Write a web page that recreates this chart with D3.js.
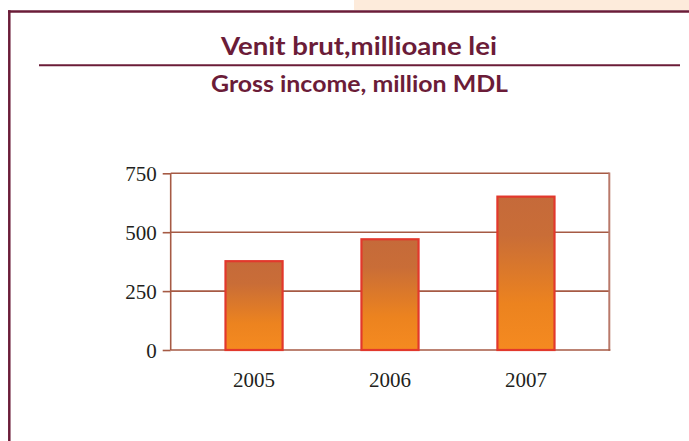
<!DOCTYPE html>
<html>
<head>
<meta charset="utf-8">
<script src="https://cdn.jsdelivr.net/npm/d3@7/dist/d3.min.js"></script>
<style>
  html, body { margin: 0; padding: 0; background: #ffffff; }
  svg { display: block; }
</style>
</head>
<body>
<svg id="chart" width="689" height="441"></svg>
<script>
const categories = ["2005", "2006", "2007"];
const values = [377, 470, 651];
const yTicks = [0, 250, 500, 750];
const titleText = "Venit brut,millioane lei";
const subtitleText = "Gross income, million MDL";

(function () {
const svg = d3.select("#chart");
const W = 689, H = 441;
const maroon = "#6b1c38";
const gridColor = "#a65a44";

// peach strip at top right
svg.append("rect").attr("x", 354).attr("y", 0).attr("width", W - 354).attr("height", 10)
  .attr("fill", "#fdebdb");

// frame: top and left borders
svg.append("line").attr("x1", 8).attr("x2", W).attr("y1", 11.5).attr("y2", 11.5)
  .attr("stroke", maroon).attr("stroke-width", 2.5);
svg.append("line").attr("x1", 9.3).attr("x2", 9.3).attr("y1", 10.3).attr("y2", H)
  .attr("stroke", maroon).attr("stroke-width", 2.5);

// titles
svg.append("text").attr("x", 359).attr("y", 55)
  .attr("text-anchor", "middle")
  .attr("font-family", "Lato, 'DejaVu Sans', sans-serif")
  .attr("font-weight", "bold").attr("font-size", 25)
  .attr("fill", maroon)
  .attr("textLength", 276).attr("lengthAdjust", "spacingAndGlyphs")
  .text(titleText);

svg.append("line").attr("x1", 39).attr("x2", 680).attr("y1", 65.3).attr("y2", 65.3)
  .attr("stroke", maroon).attr("stroke-width", 2);

svg.append("text").attr("x", 359.5).attr("y", 92)
  .attr("text-anchor", "middle")
  .attr("font-family", "Lato, 'DejaVu Sans', sans-serif")
  .attr("font-weight", "bold").attr("font-size", 23)
  .attr("fill", maroon)
  .attr("textLength", 297).attr("lengthAdjust", "spacingAndGlyphs")
  .text(subtitleText);

// plot area
const pLeft = 170.7, pRight = 609.3, pTop = 173.3, pBottom = 350;

const x = d3.scaleBand().domain(categories).range([pLeft, pRight])
  .paddingInner(0.58).paddingOuter(0.403);
const y = d3.scaleLinear().domain([0, 750]).range([pBottom, pTop]);

// gradient
const defs = svg.append("defs");
const grad = defs.append("linearGradient").attr("id", "barGrad")
  .attr("x1", 0).attr("y1", 0).attr("x2", 0).attr("y2", 1);
grad.append("stop").attr("offset", "0%").attr("stop-color", "#c56a3a");
grad.append("stop").attr("offset", "25%").attr("stop-color", "#c96d37");
grad.append("stop").attr("offset", "70%").attr("stop-color", "#ec831f");
grad.append("stop").attr("offset", "100%").attr("stop-color", "#f58a20");

// gridlines
svg.append("g").selectAll("line").data(yTicks.filter(d => d > 0)).join("line")
  .attr("x1", pLeft).attr("x2", pRight)
  .attr("y1", d => y(d)).attr("y2", d => y(d))
  .attr("stroke", gridColor).attr("stroke-width", 1.6);

// right border of plot
svg.append("line").attr("x1", pRight).attr("x2", pRight).attr("y1", pTop - 0.8).attr("y2", pBottom + 0.8)
  .attr("stroke", "#b9796a").attr("stroke-width", 2);

// y axis
const yAxis = d3.axisLeft(y).tickValues(yTicks).tickSize(8).tickPadding(6);
const gy = svg.append("g").attr("transform", `translate(${pLeft},0)`).call(yAxis);
gy.select(".domain").attr("stroke", gridColor).attr("stroke-width", 1.6)
  .attr("d", `M0,${pTop}V${pBottom}`);
gy.selectAll(".tick line").attr("stroke", gridColor).attr("stroke-width", 1.6);
gy.selectAll(".tick text")
  .attr("font-family", "'Liberation Serif', 'Times New Roman', serif")
  .attr("font-size", 21).attr("fill", "#231f20").attr("dy", "0.34em");

// bottom axis line
svg.append("line").attr("x1", pLeft).attr("x2", pRight + 1).attr("y1", pBottom).attr("y2", pBottom)
  .attr("stroke", gridColor).attr("stroke-width", 1.6);

// bars
svg.append("g").selectAll("rect").data(values).join("rect")
  .attr("x", (d, i) => x(categories[i]))
  .attr("width", x.bandwidth())
  .attr("y", d => y(d))
  .attr("height", d => pBottom - y(d))
  .attr("fill", "url(#barGrad)")
  .attr("stroke", "#e2382c").attr("stroke-width", 2.2);

// x labels
const xAxis = d3.axisBottom(x).tickSize(0).tickPadding(0);
const gx = svg.append("g").attr("transform", `translate(0,${pBottom})`).call(xAxis);
gx.select(".domain").remove();
gx.selectAll(".tick text")
  .attr("y", 36.7).attr("dy", 0)
  .attr("font-family", "'Liberation Serif', 'Times New Roman', serif")
  .attr("font-size", 21).attr("fill", "#231f20");
})();
</script>
</body>
</html>
